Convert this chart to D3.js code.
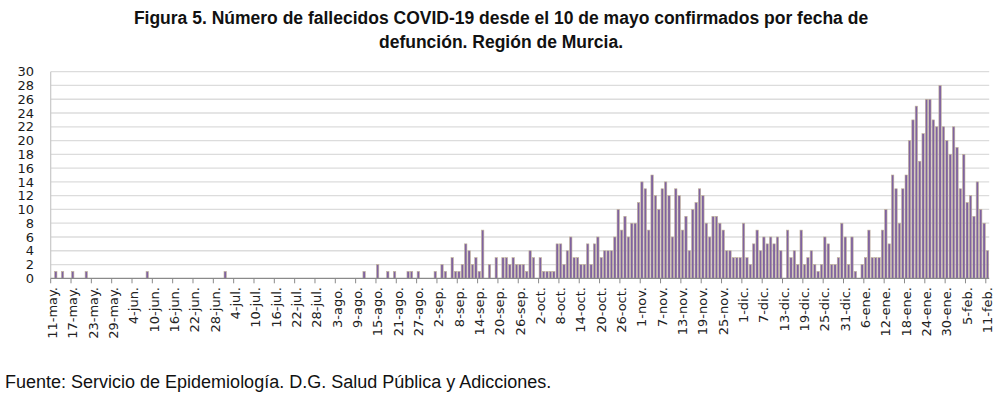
<!DOCTYPE html>
<html>
<head>
<meta charset="utf-8">
<script src="https://cdn.jsdelivr.net/npm/d3@7"></script>
<style>
  html, body { margin: 0; padding: 0; background: #fff; }
  svg { display: block; }
</style>
</head>
<body>
<svg id="svg" width="1000" height="399"></svg>
<script>
// daily deaths by date of death, 11-may-2020 .. 11-feb-2021
const deaths = [
  0,1,0,1,0,0,1,0,0,0, 1,0,0,0,0,0,0,0,0,0,
  0,0,0,0,0,0,0,0,1,0, 0,0,0,0,0,0,0,0,0,0,
  0,0,0,0,0,0,0,0,0,0, 0,1,0,0,0,0,0,0,0,0,
  0,0,0,0,0,0,0,0,0,0, 0,0,0,0,0,0,0,0,0,0,
  0,0,0,0,0,0,0,0,0,0, 0,0,1,0,0,0,2,0,0,1,
  0,1,0,0,0,1,1,0,1,0, 0,0,0,1,0,2,1,0,3,1,
  1,2,5,4,2,3,1,7,0,2, 0,3,0,3,3,2,3,2,2,2,
  1,4,3,0,3,1,1,1,1,5, 5,2,4,6,3,3,2,2,5,2,
  5,6,3,4,4,4,6,10,7,9, 6,8,8,11,14,13,7,15,12,10,
  13,14,12,6,13,12,7,9,4,10, 11,13,12,8,6,9,9,8,7,4,
  4,3,3,3,8,3,2,5,7,4, 6,5,6,5,6,4,0,7,3,4,
  2,7,2,3,4,2,1,2,6,5, 2,2,3,8,6,2,6,1,0,2,
  3,7,3,3,3,7,10,5,15,13, 8,13,15,20,23,25,17,21,26,26,
  23,22,28,22,20,18,22,19,13,18, 11,12,9,14,10,8,4
];

const startDate  = new Date(2020, 4, 11);
const days       = d3.timeDay.range(startDate, d3.timeDay.offset(startDate, deaths.length));
const monthNames = ['ene.', 'feb.', 'mar.', 'abr.', 'may.', 'jun.', 'jul.', 'ago.', 'sep.', 'oct.', 'nov.', 'dic.'];
const yTicks     = d3.range(0, 31, 2);
const labelEvery = 6;

const titleLines = [
  'Figura 5. Número de fallecidos COVID-19 desde el 10 de mayo confirmados por fecha de',
  'defunción. Región de Murcia.'
];
const sourceText = 'Fuente: Servicio de Epidemiología. D.G. Salud Pública y Adicciones.';

const svg = d3.select('#svg');

// --- Scales ---
const x = d3.scaleBand()
  .domain(d3.range(deaths.length))
  .range([50.7, 989.2])
  .paddingInner(0.3)
  .paddingOuter(0.15);

const y = d3.scaleLinear()
  .domain([0, 30])
  .range([278.3, 71.7]);

const step = x.step();

// --- Gridlines ---
svg.append('g')
  .selectAll('line')
  .data(yTicks.filter(d => d > 0))
  .join('line')
  .attr('x1', 50.7)
  .attr('x2', 989.2)
  .attr('y1', d => y(d))
  .attr('y2', d => y(d))
  .attr('stroke', '#dcdcdc')
  .attr('stroke-width', 1.3);

// y axis line
svg.append('line')
  .attr('x1', 50.7).attr('x2', 50.7)
  .attr('y1', y(30)).attr('y2', y(0))
  .attr('stroke', '#c8c8c8')
  .attr('stroke-width', 1.2);

// --- Bars ---
svg.append('g')
  .selectAll('rect')
  .data(deaths.map((v, i) => ({ i, v })).filter(d => d.v > 0))
  .join('rect')
  .attr('x', d => x(d.i))
  .attr('width', x.bandwidth())
  .attr('y', d => y(d.v))
  .attr('height', d => y(0) - y(d.v))
  .attr('fill', '#7f62a1')
  .attr('stroke', '#c2b49a')
  .attr('stroke-width', 0.6);

// --- X axis ---
svg.append('line')
  .attr('x1', 50.7).attr('x2', 989.2)
  .attr('y1', y(0)).attr('y2', y(0))
  .attr('stroke', '#8a8a8a')
  .attr('stroke-width', 1.2);

const tickIdx = d3.range(0, deaths.length + 1, labelEvery);

svg.append('g')
  .selectAll('line')
  .data(tickIdx)
  .join('line')
  .attr('x1', d => 50.7 + step * d)
  .attr('x2', d => 50.7 + step * d)
  .attr('y1', y(0))
  .attr('y2', y(0) + 5)
  .attr('stroke', '#8a8a8a')
  .attr('stroke-width', 1);

svg.append('g')
  .selectAll('text')
  .data(tickIdx.filter(d => d < deaths.length))
  .join('text')
  .attr('transform', d => `translate(${x(d) + x.bandwidth() / 2},287) rotate(-90)`)
  .attr('text-anchor', 'end')
  .attr('dy', '0.35em')
  .attr('font-family', 'DejaVu Sans, Verdana, sans-serif')
  .attr('font-size', '13px')
  .attr('fill', '#222')
  .text(d => days[d].getDate() + '-' + monthNames[days[d].getMonth()]);

// --- Y labels ---
svg.append('g')
  .selectAll('text')
  .data(yTicks)
  .join('text')
  .attr('x', 34)
  .attr('y', d => y(d))
  .attr('dy', '0.36em')
  .attr('text-anchor', 'end')
  .attr('font-family', 'DejaVu Sans, Verdana, sans-serif')
  .attr('font-size', '13px')
  .attr('fill', '#1a1a1a')
  .text(d => d);

// --- Title ---
svg.append('g')
  .selectAll('text')
  .data(titleLines)
  .join('text')
  .attr('x', 501)
  .attr('y', (d, i) => 24 + i * 24)
  .attr('text-anchor', 'middle')
  .attr('font-family', 'Liberation Sans, Arial, sans-serif')
  .attr('font-weight', 'bold')
  .attr('font-size', '17.5px')
  .attr('fill', '#111')
  .text(d => d);

// --- Source ---
svg.append('text')
  .attr('x', 5)
  .attr('y', 388)
  .attr('font-family', 'Liberation Sans, Arial, sans-serif')
  .attr('font-size', '18px')
  .attr('fill', '#111')
  .text(sourceText);
</script>
</body>
</html>
